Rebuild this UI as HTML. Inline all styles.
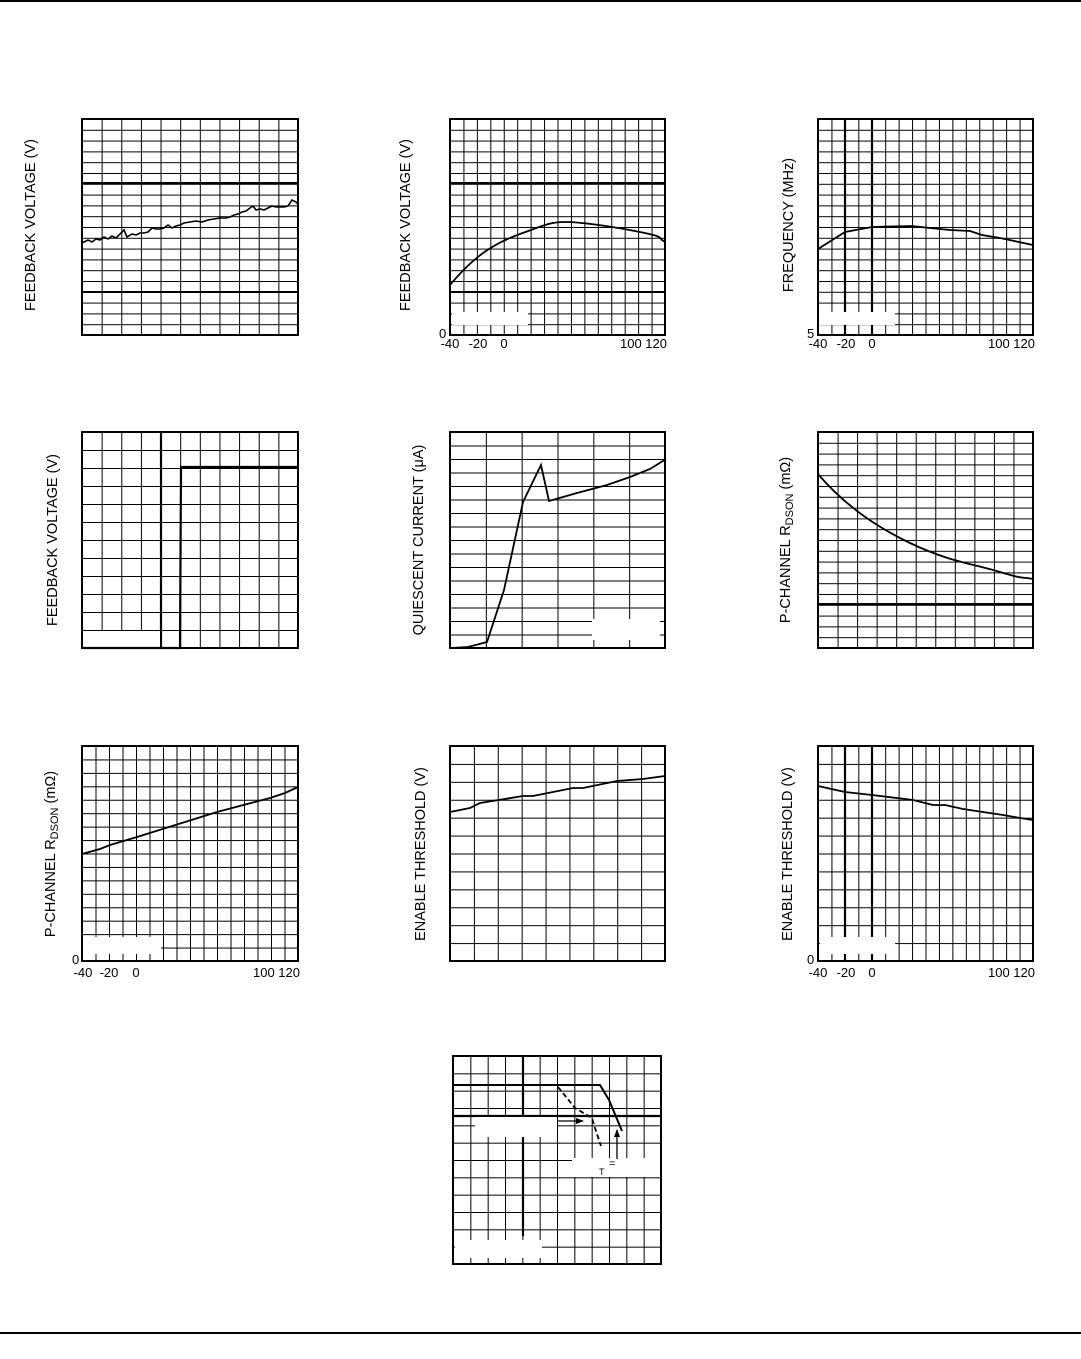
<!DOCTYPE html>
<html><head><meta charset="utf-8"><style>
body{margin:0;background:#fff}
svg{display:block}
text{font-family:"Liberation Sans",Arial,sans-serif;fill:#000}
</style></head><body>
<svg width="1081" height="1359" viewBox="0 0 1081 1359" xmlns="http://www.w3.org/2000/svg">
<defs>
<pattern id="p1" patternUnits="userSpaceOnUse" x="82" y="119" width="19.636" height="10.8"><path d="M0 0V10.8M0 0H19.636" stroke="#000" stroke-width="2" fill="none"/></pattern>
<pattern id="p2" patternUnits="userSpaceOnUse" x="450" y="119" width="13.4375" height="10.8"><path d="M0 0V10.8M0 0H13.4375" stroke="#000" stroke-width="2" fill="none"/></pattern>
<pattern id="p3" patternUnits="userSpaceOnUse" x="818" y="119" width="13.4375" height="10.8"><path d="M0 0V10.8M0 0H13.4375" stroke="#000" stroke-width="2" fill="none"/></pattern>
<pattern id="p4" patternUnits="userSpaceOnUse" x="82" y="432" width="19.636" height="18"><path d="M0 0V18M0 0H19.636" stroke="#000" stroke-width="2" fill="none"/></pattern>
<pattern id="p5" patternUnits="userSpaceOnUse" x="450" y="432" width="35.833" height="13.5"><path d="M0 0V13.5M0 0H35.833" stroke="#000" stroke-width="2" fill="none"/></pattern>
<pattern id="p6" patternUnits="userSpaceOnUse" x="818" y="432" width="19.545" height="10.8"><path d="M0 0V10.8M0 0H19.545" stroke="#000" stroke-width="2" fill="none"/></pattern>
<pattern id="p7" patternUnits="userSpaceOnUse" x="82" y="746" width="13.5" height="13.4375"><path d="M0 0V13.4375M0 0H13.5" stroke="#000" stroke-width="2" fill="none"/></pattern>
<pattern id="p8" patternUnits="userSpaceOnUse" x="450" y="746" width="23.889" height="17.917"><path d="M0 0V17.917M0 0H23.889" stroke="#000" stroke-width="2" fill="none"/></pattern>
<pattern id="p9" patternUnits="userSpaceOnUse" x="818" y="746" width="13.4375" height="17.917"><path d="M0 0V17.917M0 0H13.4375" stroke="#000" stroke-width="2" fill="none"/></pattern>
<pattern id="p10" patternUnits="userSpaceOnUse" x="453" y="1056" width="17.333" height="17.333"><path d="M0 0V17.333M0 0H17.333" stroke="#000" stroke-width="2" fill="none"/></pattern>
<marker id="ar" markerWidth="8" markerHeight="8" refX="7" refY="4" orient="auto" markerUnits="userSpaceOnUse"><path d="M0 1L8 4L0 7Z" fill="#000"/></marker>
</defs>
<line x1="0" y1="1" x2="1081" y2="1" stroke="#000" stroke-width="2"/>
<line x1="0" y1="1333" x2="1081" y2="1333" stroke="#000" stroke-width="2"/>

<!-- C1 -->
<rect x="82" y="119" width="216" height="216" fill="url(#p1)" stroke="#000" stroke-width="2"/>
<path d="M82 183H298M82 292H298" stroke="#000" stroke-width="2"/>
<polyline points="82,243 88,240 92,242 96,239 100,240 104,237 108,239 112,236 116,238 120,234 124,230 127,237 132,234 136,235 140,233 144,233 148,232 152,228 156,229 160,229 164,228 168,225 172,228 176,226 180,225 184,223 190,222 196,221 202,222 208,220 214,219 220,218 226,218 230,217 234,215 238,214 242,212 246,211 250,208 253,206 256,210 260,209 264,210 268,208 272,206 276,207 280,207 284,207 288,206 292,200 296,202 298,204" fill="none" stroke="#000" stroke-width="1.6"/>
<text transform="translate(35,225) rotate(-90)" font-size="14.5" text-anchor="middle">FEEDBACK VOLTAGE (V)</text>

<!-- C2 -->
<rect x="450" y="119" width="215" height="216" fill="url(#p2)" stroke="#000" stroke-width="2"/>
<path d="M450 183H665M450 292H665" stroke="#000" stroke-width="2"/>
<path d="M450 285C475 255 495 243 520 234S550 222 565 222S610 226 640 232S655 238 666 242" fill="none" stroke="#000" stroke-width="1.8"/>
<rect x="452" y="312" width="76" height="13" fill="#fff"/>
<text transform="translate(410,225) rotate(-90)" font-size="14.5" text-anchor="middle">FEEDBACK VOLTAGE (V)</text>
<text x="439" y="338" font-size="13">0</text>
<text x="450" y="348" font-size="13" text-anchor="middle">-40</text>
<text x="478" y="348" font-size="13" text-anchor="middle">-20</text>
<text x="504" y="348" font-size="13" text-anchor="middle">0</text>
<text x="667" y="348" font-size="13" text-anchor="end">100 120</text>

<!-- C3 -->
<rect x="818" y="119" width="215" height="216" fill="url(#p3)" stroke="#000" stroke-width="2"/>
<path d="M845 119V335M872 119V335" stroke="#000" stroke-width="2.2"/>
<polyline points="818,249 845,232 872,227 912,226 930,228 950,230 970,231 982,235 1000,238 1033,245" fill="none" stroke="#000" stroke-width="1.8"/>
<rect x="819" y="312" width="76" height="13" fill="#fff"/>
<text transform="translate(793,225) rotate(-90)" font-size="14.5" text-anchor="middle">FREQUENCY (MHz)</text>
<text x="807" y="338" font-size="13">5</text>
<text x="818" y="348" font-size="13" text-anchor="middle">-40</text>
<text x="846" y="348" font-size="13" text-anchor="middle">-20</text>
<text x="872" y="348" font-size="13" text-anchor="middle">0</text>
<text x="1035" y="348" font-size="13" text-anchor="end">100 120</text>

<!-- C4 -->
<rect x="82" y="432" width="216" height="216" fill="url(#p4)" stroke="#000" stroke-width="2"/>
<path d="M161 432V648" stroke="#000" stroke-width="2.2"/>
<rect x="83" y="631" width="77" height="16" fill="#fff"/>
<polyline points="82,648 180,648 181,467 298,467" fill="none" stroke="#000" stroke-width="2.2"/>
<text transform="translate(57,540) rotate(-90)" font-size="14.5" text-anchor="middle">FEEDBACK VOLTAGE (V)</text>

<!-- C5 -->
<rect x="450" y="432" width="215" height="216" fill="url(#p5)" stroke="#000" stroke-width="2"/>
<rect x="592" y="619" width="68" height="21" fill="#fff"/>
<polyline points="450,648 468,647 487,642 504,590 523,502 541,465 549,501 577,493 607,485 630,477 650,469 666,459" fill="none" stroke="#000" stroke-width="1.8"/>
<text transform="translate(423,540) rotate(-90)" font-size="14.5" text-anchor="middle">QUIESCENT CURRENT (μA)</text>

<!-- C6 -->
<rect x="818" y="432" width="215" height="216" fill="url(#p6)" stroke="#000" stroke-width="2"/>
<path d="M818 604H1033" stroke="#000" stroke-width="2"/>
<path d="M818 474C840 500 870 524 910 543S970 563 1000 572S1020 576 1033 579" fill="none" stroke="#000" stroke-width="1.8"/>
<text transform="translate(790,540) rotate(-90)" font-size="14.5" text-anchor="middle">P-CHANNEL R<tspan font-size="11" dy="3">DSON</tspan><tspan dy="-3"> (mΩ)</tspan></text>

<!-- C7 -->
<rect x="82" y="746" width="216" height="215" fill="url(#p7)" stroke="#000" stroke-width="2"/>
<rect x="83" y="937" width="78" height="17" fill="#fff"/>
<polyline points="82,854 100,849 110,845 137,837 217,812 270,798 285,793 298,787" fill="none" stroke="#000" stroke-width="1.8"/>
<text transform="translate(55,854) rotate(-90)" font-size="14.5" text-anchor="middle">P-CHANNEL R<tspan font-size="11" dy="3">DSON</tspan><tspan dy="-3"> (mΩ)</tspan></text>
<text x="72" y="964" font-size="13">0</text>
<text x="83" y="977" font-size="13" text-anchor="middle">-40</text>
<text x="109" y="977" font-size="13" text-anchor="middle">-20</text>
<text x="136" y="977" font-size="13" text-anchor="middle">0</text>
<text x="300" y="977" font-size="13" text-anchor="end">100 120</text>

<!-- C8 -->
<rect x="450" y="746" width="215" height="215" fill="url(#p8)" stroke="#000" stroke-width="2"/>
<polyline points="450,812 470,808 480,803 523,796 533,796 573,788 583,788 617,781 643,779 665,776" fill="none" stroke="#000" stroke-width="1.8"/>
<text transform="translate(425,854) rotate(-90)" font-size="14.5" text-anchor="middle">ENABLE THRESHOLD (V)</text>

<!-- C9 -->
<rect x="818" y="746" width="215" height="215" fill="url(#p9)" stroke="#000" stroke-width="2"/>
<path d="M845 746V961M872 746V961" stroke="#000" stroke-width="2.2"/>
<rect x="820" y="937" width="75" height="17" fill="#fff"/>
<polyline points="818,786 845,792 872,795 913,800 933,805 945,805 963,809 1003,815 1020,818 1033,820" fill="none" stroke="#000" stroke-width="1.8"/>
<text transform="translate(792,854) rotate(-90)" font-size="14.5" text-anchor="middle">ENABLE THRESHOLD (V)</text>
<text x="807" y="964" font-size="13">0</text>
<text x="818" y="977" font-size="13" text-anchor="middle">-40</text>
<text x="846" y="977" font-size="13" text-anchor="middle">-20</text>
<text x="872" y="977" font-size="13" text-anchor="middle">0</text>
<text x="1035" y="977" font-size="13" text-anchor="end">100 120</text>

<!-- C10 -->
<rect x="453" y="1056" width="208" height="208" fill="url(#p10)" stroke="#000" stroke-width="2"/>
<path d="M523 1056V1236M453 1116H661" stroke="#000" stroke-width="2.2"/>
<rect x="475" y="1117" width="82" height="20" fill="#fff"/>
<rect x="572" y="1158" width="88" height="19" fill="#fff"/>
<rect x="455" y="1240" width="87" height="18" fill="#fff"/>
<polyline points="453,1085 600,1085 609,1100 622,1131" fill="none" stroke="#000" stroke-width="2"/>
<polyline points="558,1087 575,1108 592,1118 595,1128 601,1146" fill="none" stroke="#000" stroke-width="1.8" stroke-dasharray="5,3"/>
<line x1="557" y1="1121" x2="583" y2="1121" stroke="#000" stroke-width="1.3" marker-end="url(#ar)"/>
<line x1="617" y1="1159" x2="617" y2="1130" stroke="#000" stroke-width="1.3" marker-end="url(#ar)"/>
<text x="599" y="1175" font-size="9">T</text>
<text x="609" y="1167" font-size="11">=</text>
</svg>
</body></html>
